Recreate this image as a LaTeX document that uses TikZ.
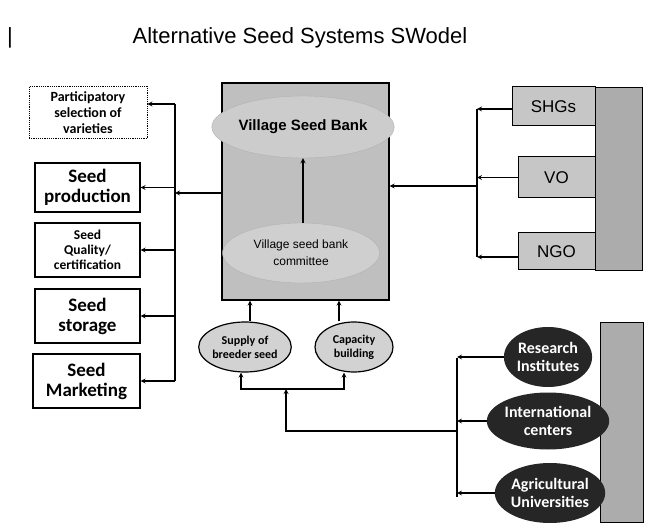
\documentclass[tikz,border=0pt]{standalone}
\usepackage{fontspec}
\setmainfont{Liberation Sans}
\newfontfamily\carlito{Carlito}
\usetikzlibrary{shapes,shapes.geometric,arrows,calc,positioning}

\begin{document}
\begin{tikzpicture}[x=1pt,y=-1pt, arrow/.style = {line width=1.2pt,-stealth}, link/.style = {line width=1.2pt}]
		\tikzset{task/.style={draw,rectangle,line width=1.2pt,inner sep=0pt,align=center,font=\carlito\bfseries\fontsize{19}{20}\selectfont}}
		\tikzset{actor/.style={draw,rectangle,line width=1pt,inner sep=0pt,text centered,fill=gray!45,font=\fontsize{17}{18}\selectfont}}
		\tikzset{inst/.style={ellipse,inner sep=0pt,fill=black!85,text=white,align=center,font=\carlito\bfseries\fontsize{16}{18}\selectfont}}
		\tikzset{band/.style={draw,rectangle,line width=0.8pt,inner sep=0pt,fill=gray!65}}

		\useasboundingbox (0,0) rectangle (645,526);

		% Title
		\node (stroke) at (10,38) {\fontsize{22}{24}\selectfont |};
		\node (title) at (300,38) {\fontsize{22}{24}\selectfont Alternative Seed Systems SWodel};

		% Village seed bank
		\node[draw=black, line width=1.2pt, fill=gray!50, minimum width=167pt, minimum height=217pt, inner sep=0pt] (vsb) at (305.5,191.5) {};

		\node[ellipse, draw=gray!60, fill=gray!40, minimum width=160pt, minimum height=62pt, inner sep=0pt, font=\bfseries\fontsize{15}{17}\selectfont] (vsbtitle) at (303,127) {Village Seed Bank};

		\node[ellipse, draw=gray!60, fill=gray!38, minimum width=157pt, minimum height=60pt, inner sep=0pt, align=center, font=\fontsize{12}{17}\selectfont] (committee) at (301,253) {Village seed bank\\committee};

		% Activities
		\node[task, densely dotted, line width=0.8pt, minimum width=118pt, minimum height=52pt, font=\carlito\bfseries\fontsize{14}{16}\selectfont] (partsel) at (88,112.5) {Participatory\\selection of\\varieties};

		\node[task, minimum width=105pt, minimum height=49pt] (prod) at (87.5,187.5) {Seed\\production};

		\node[task, minimum width=105pt, minimum height=54pt, font=\carlito\bfseries\fontsize{13.5}{15}\selectfont] (quality) at (87.5,250) {Seed\\Quality/\\certification};

		\node[task, minimum width=105pt, minimum height=54pt] (storage) at (87.5,316) {Seed\\storage};

		\node[task, minimum width=107pt, minimum height=54pt] (market) at (86.5,381) {Seed\\Marketing};

		% Community actors
		\node[band, minimum width=47pt, minimum height=183pt] (cband) at (618.5,178.5) {};

		\node[actor, minimum width=83pt, minimum height=39pt] (shg) at (553.5,106.5) {SHGs};

		\node[actor, minimum width=77pt, minimum height=41pt] (vo) at (556.5,177.5) {VO};

		\node[actor, minimum width=77pt, minimum height=37pt] (ngo) at (556.5,251.5) {NGO};

		% Support
		\node[ellipse, draw=black, line width=1.2pt, fill=gray!35, minimum width=84pt, minimum height=50pt, inner sep=0pt, align=center, font=\carlito\bfseries\fontsize{12}{14}\selectfont] (supply) at (245,347) {Supply of\\breeder seed};

		\node[ellipse, draw=black, line width=1.2pt, fill=gray!35, minimum width=78pt, minimum height=50pt, inner sep=0pt, align=center, font=\carlito\bfseries\fontsize{12}{14}\selectfont] (capb) at (354,347) {Capacity\\building};

		% Institutions
		\node[band, minimum width=43pt, minimum height=200pt] (iband) at (621.5,422) {};

		\node[inst, minimum width=85pt, minimum height=60pt] (research) at (548,357) {Research\\Institutes};

		\node[inst, minimum width=97pt, minimum height=57pt] (intl) at (548,421) {International\\centers};

		\node[inst, minimum width=90pt, minimum height=60pt] (agri) at (550,493) {Agricultural\\Universities};

		% Arrows
		\coordinate (lbtop) at (175,104);
		\coordinate (lbbot) at (175,381);
		\coordinate (lbin) at (175,193);
		\draw [link] (lbtop) -- (lbbot);
		\draw [arrow] (vsb.west |- lbin) -- (lbin);
		\draw [arrow] (lbtop) -- (partsel.east |- lbtop);
		\draw [arrow] (lbtop |- prod.east) -- (prod.east);
		\draw [arrow] (lbtop |- quality.east) -- (quality.east);
		\draw [arrow] (lbtop |- storage.east) -- (storage.east);
		\draw [arrow] (lbtop |- market.east) -- (market.east);

		\draw [arrow] (committee.north -| vsbtitle.south) -- (vsbtitle.south);

		\coordinate (rbtop) at (477,109);
		\coordinate (rbbot) at (477,257);
		\coordinate (rbout) at (477,186);
		\draw [link] (rbtop) -- (rbbot);
		\draw [arrow] (shg.west |- rbtop) -- (rbtop);
		\draw [arrow] (vo.west) -- (rbtop |- vo.west);
		\draw [arrow] (ngo.west |- rbbot) -- (rbbot);
		\draw [arrow] (rbout) -- (vsb.east |- rbout);

		\draw [arrow] ([xshift=5pt]supply.north) -- ([xshift=5pt]supply.north |- vsb.south);
		\draw [arrow] ([xshift=-15pt]capb.north) -- ([xshift=-15pt]capb.north |- vsb.south);

		\coordinate (sjoin) at (286,389);
		\coordinate (bjoin) at (286,431);
		\coordinate (ibtop) at (457,358);
		\coordinate (ibbot) at (457,497);
		\coordinate (ibout) at (457,431);
		\draw [arrow] (sjoin) -| ([xshift=-4pt]supply.south);
		\draw [arrow] (sjoin) -| ([xshift=-10pt]capb.south);
		\draw [arrow] (ibout) -- (bjoin) -- (sjoin);
		\draw [link] (ibtop) -- (ibbot);
		\draw [arrow] (research.west) -- (ibtop |- research.west);
		\draw [arrow] (intl.west) -- (ibtop |- intl.west);
		\draw [arrow] (agri.west) -- (ibtop |- agri.west);

	\end{tikzpicture}
\end{document}
